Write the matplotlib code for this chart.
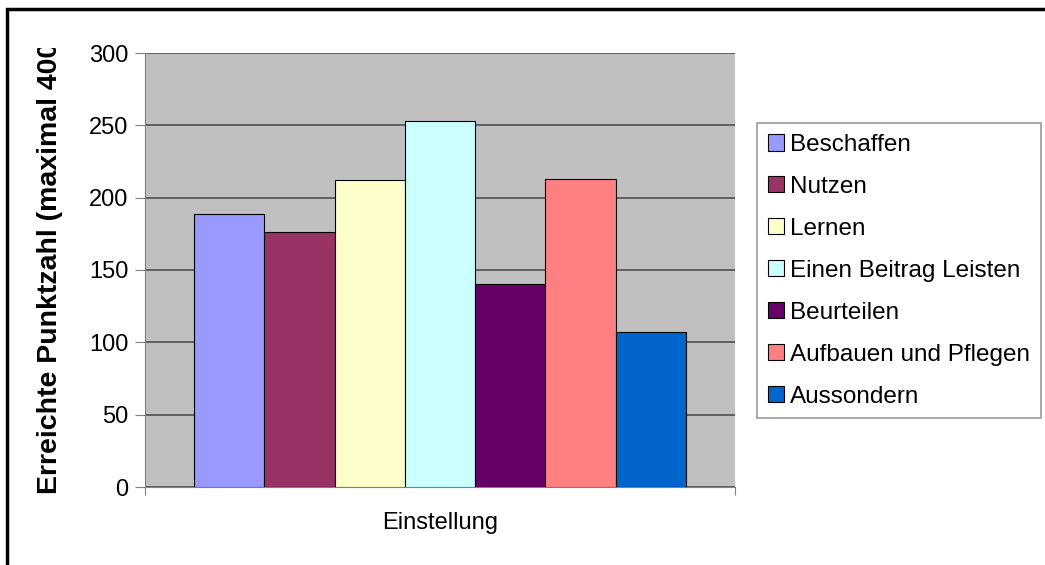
import matplotlib
matplotlib.use("Agg")
import matplotlib.pyplot as plt
from matplotlib.patches import Rectangle
from matplotlib.transforms import Bbox, TransformedBbox

categories = ["Beschaffen", "Nutzen", "Lernen", "Einen Beitrag Leisten",
	"Beurteilen", "Aufbauen und Pflegen", "Aussondern"]
values = [189, 176, 212, 253, 140, 213, 107]
colors = ["#9999FF", "#993366", "#FFFFCC", "#CCFFFF", "#660066", "#FF8080", "#0066CC"]
yTicks = [0, 50, 100, 150, 200, 250, 300]
groupLabel = "Einstellung"
yLabel = "Erreichte Punktzahl (maximal 400)"

def generateImage(imageName):
	plt.rcParams["font.family"] = ["Liberation Sans", "DejaVu Sans"]
	W, H = 1045, 565
	fig = plt.figure(figsize=(W / 100, H / 100), dpi=100)
	ax = fig.add_axes([145 / W, 1 - 487 / H, 590 / W, 434 / H])
	ax.set_facecolor("#C0C0C0")

	# one category group, bars side by side
	n = len(values)
	barW = 0.834 / n
	for i in range(n):
		x = -0.417 + barW * (i + 0.5)
		ax.bar(x, values[i], width=barW, color=colors[i], edgecolor="black",
			linewidth=0.8, label=categories[i], zorder=3)

	ax.set_xlim(-0.5, 0.5)
	ax.set_ylim(0, 300)
	ax.set_yticks(yTicks)
	ax.yaxis.grid(True, color="#505050", linewidth=1.2, zorder=1)
	ax.set_axisbelow(True)
	ax.tick_params(axis="y", direction="out", length=7, color="#808080", labelsize=17, pad=5)
	ax.set_xticks([-0.5, 0.5])
	ax.set_xticklabels(["", ""])
	ax.tick_params(axis="x", direction="out", length=6, color="#808080")
	for s in ["top", "right"]:
		ax.spines[s].set_visible(False)
	ax.spines["left"].set_color("#808080")
	ax.spines["bottom"].set_color("#808080")

	fig.text(440 / W, 1 - 523 / H, groupLabel, ha="center", va="center", fontsize=17)

	# y label, cut at the top like the original
	lab = fig.text(50 / W, 1 - 494 / H, yLabel, rotation=90, ha="center", va="bottom",
		fontsize=20.5, fontweight="bold")
	lab.set_clip_on(True)
	lab.set_clip_box(TransformedBbox(Bbox([[0, 0], [1, 1 - 48 / H]]), fig.transFigure))

	leg = fig.legend(loc="upper left", bbox_to_anchor=(757 / W, 1 - 123 / H),
		fontsize=17.5, frameon=True, fancybox=False, shadow=False,
		handlelength=0.65, handleheight=0.65, handletextpad=0.25,
		labelspacing=0.82, borderpad=0.45, borderaxespad=0)
	leg.get_frame().set_edgecolor("#808080")
	leg.get_frame().set_linewidth(1.2)

	# outer chart frame
	fig.patches.append(Rectangle((7 / W, -0.1), 1.2, 1 - 9 / H + 0.1, transform=fig.transFigure,
		fill=False, edgecolor="black", linewidth=2.5))

	fig.savefig(imageName, dpi=100)

generateImage("out.png")
